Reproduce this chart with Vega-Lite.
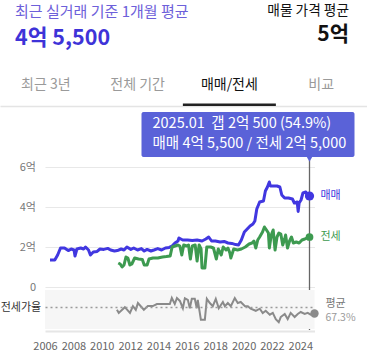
{
  "$schema": "https://vega.github.io/schema/vega-lite/v6.json",
  "width": 367,
  "height": 364,
  "autosize": "none",
  "padding": 0,
  "background": "#ffffff",
  "config": {"view": {"stroke": null}, "font": "Noto Sans CJK KR", "axis": {"title": null}},
  "datasets": {
    "price": [
      {"d": 2006.0, "v": 1.35, "s": "매매"}, {"d": 2006.35, "v": 1.35, "s": "매매"}, {"d": 2006.56, "v": 1.6, "s": "매매"}, {"d": 2006.77, "v": 1.95, "s": "매매"},
      {"d": 2007.06, "v": 1.95, "s": "매매"}, {"d": 2007.34, "v": 1.82, "s": "매매"}, {"d": 2007.55, "v": 1.9, "s": "매매"}, {"d": 2007.76, "v": 1.85, "s": "매매"},
      {"d": 2007.83, "v": 1.55, "s": "매매"}, {"d": 2007.97, "v": 1.9, "s": "매매"}, {"d": 2008.25, "v": 1.95, "s": "매매"}, {"d": 2008.46, "v": 1.9, "s": "매매"},
      {"d": 2008.6, "v": 2.0, "s": "매매"}, {"d": 2008.82, "v": 1.85, "s": "매매"}, {"d": 2008.96, "v": 1.6, "s": "매매"}, {"d": 2009.17, "v": 1.75, "s": "매매"},
      {"d": 2009.45, "v": 1.78, "s": "매매"}, {"d": 2009.66, "v": 1.9, "s": "매매"}, {"d": 2009.94, "v": 1.88, "s": "매매"}, {"d": 2010.23, "v": 1.93, "s": "매매"},
      {"d": 2010.44, "v": 1.85, "s": "매매"}, {"d": 2010.72, "v": 1.8, "s": "매매"}, {"d": 2010.93, "v": 1.82, "s": "매매"}, {"d": 2011.21, "v": 1.9, "s": "매매"},
      {"d": 2011.42, "v": 1.85, "s": "매매"}, {"d": 2011.63, "v": 2.0, "s": "매매"}, {"d": 2011.92, "v": 1.88, "s": "매매"}, {"d": 2012.13, "v": 1.95, "s": "매매"},
      {"d": 2012.41, "v": 1.85, "s": "매매"}, {"d": 2012.69, "v": 1.92, "s": "매매"}, {"d": 2012.9, "v": 1.8, "s": "매매"}, {"d": 2013.11, "v": 1.88, "s": "매매"},
      {"d": 2013.39, "v": 1.8, "s": "매매"}, {"d": 2013.61, "v": 1.85, "s": "매매"}, {"d": 2013.89, "v": 1.92, "s": "매매"}, {"d": 2014.17, "v": 1.85, "s": "매매"},
      {"d": 2014.45, "v": 1.95, "s": "매매"}, {"d": 2014.73, "v": 1.98, "s": "매매"}, {"d": 2014.94, "v": 2.05, "s": "매매"}, {"d": 2015.15, "v": 2.2, "s": "매매"},
      {"d": 2015.37, "v": 2.3, "s": "매매"}, {"d": 2015.44, "v": 2.45, "s": "매매"}, {"d": 2015.72, "v": 2.35, "s": "매매"}, {"d": 2016.07, "v": 2.35, "s": "매매"},
      {"d": 2016.42, "v": 2.32, "s": "매매"}, {"d": 2016.77, "v": 2.35, "s": "매매"}, {"d": 2017.13, "v": 2.3, "s": "매매"}, {"d": 2017.41, "v": 2.4, "s": "매매"},
      {"d": 2017.62, "v": 2.5, "s": "매매"}, {"d": 2017.83, "v": 2.3, "s": "매매"}, {"d": 2018.11, "v": 2.3, "s": "매매"}, {"d": 2018.46, "v": 2.25, "s": "매매"},
      {"d": 2018.75, "v": 2.28, "s": "매매"}, {"d": 2019.03, "v": 2.2, "s": "매매"}, {"d": 2019.31, "v": 2.18, "s": "매매"}, {"d": 2019.59, "v": 2.12, "s": "매매"},
      {"d": 2019.8, "v": 2.1, "s": "매매"}, {"d": 2020.01, "v": 2.35, "s": "매매"}, {"d": 2020.23, "v": 2.75, "s": "매매"}, {"d": 2020.44, "v": 2.9, "s": "매매"},
      {"d": 2020.65, "v": 3.05, "s": "매매"}, {"d": 2020.86, "v": 3.15, "s": "매매"}, {"d": 2021.0, "v": 3.3, "s": "매매"}, {"d": 2021.14, "v": 3.9, "s": "매매"},
      {"d": 2021.35, "v": 4.25, "s": "매매"}, {"d": 2021.63, "v": 4.3, "s": "매매"}, {"d": 2021.77, "v": 4.8, "s": "매매"}, {"d": 2021.92, "v": 5.0, "s": "매매"},
      {"d": 2022.06, "v": 5.25, "s": "매매"}, {"d": 2022.13, "v": 5.05, "s": "매매"}, {"d": 2022.34, "v": 5.05, "s": "매매"}, {"d": 2022.62, "v": 5.05, "s": "매매"},
      {"d": 2022.83, "v": 5.0, "s": "매매"}, {"d": 2022.97, "v": 4.6, "s": "매매"}, {"d": 2023.18, "v": 4.45, "s": "매매"}, {"d": 2023.46, "v": 4.45, "s": "매매"},
      {"d": 2023.75, "v": 4.4, "s": "매매"}, {"d": 2023.89, "v": 4.2, "s": "매매"}, {"d": 2024.1, "v": 4.25, "s": "매매"}, {"d": 2024.17, "v": 3.78, "s": "매매"},
      {"d": 2024.24, "v": 4.2, "s": "매매"}, {"d": 2024.38, "v": 4.35, "s": "매매"}, {"d": 2024.52, "v": 4.7, "s": "매매"}, {"d": 2024.73, "v": 4.75, "s": "매매"},
      {"d": 2024.84, "v": 4.6, "s": "매매"}, {"d": 2025.0, "v": 4.55, "s": "매매"},
      {"d": 2011.0, "v": 1.2, "s": "전세"}, {"d": 2011.14, "v": 1.15, "s": "전세"}, {"d": 2011.28, "v": 1.0, "s": "전세"}, {"d": 2011.42, "v": 1.1, "s": "전세"},
      {"d": 2011.56, "v": 1.5, "s": "전세"}, {"d": 2011.7, "v": 1.45, "s": "전세"}, {"d": 2011.85, "v": 1.1, "s": "전세"}, {"d": 2011.99, "v": 1.15, "s": "전세"},
      {"d": 2012.2, "v": 1.45, "s": "전세"}, {"d": 2012.48, "v": 1.4, "s": "전세"}, {"d": 2012.76, "v": 1.38, "s": "전세"}, {"d": 2012.9, "v": 1.1, "s": "전세"},
      {"d": 2013.11, "v": 1.1, "s": "전세"}, {"d": 2013.25, "v": 1.4, "s": "전세"}, {"d": 2013.54, "v": 1.45, "s": "전세"}, {"d": 2013.89, "v": 1.45, "s": "전세"},
      {"d": 2014.24, "v": 1.5, "s": "전세"}, {"d": 2014.52, "v": 1.52, "s": "전세"}, {"d": 2014.8, "v": 1.55, "s": "전세"}, {"d": 2014.94, "v": 2.0, "s": "전세"},
      {"d": 2015.15, "v": 2.05, "s": "전세"}, {"d": 2015.37, "v": 2.1, "s": "전세"}, {"d": 2015.51, "v": 2.05, "s": "전세"}, {"d": 2015.65, "v": 1.6, "s": "전세"},
      {"d": 2015.79, "v": 2.1, "s": "전세"}, {"d": 2016.0, "v": 2.05, "s": "전세"}, {"d": 2016.14, "v": 2.1, "s": "전세"}, {"d": 2016.28, "v": 1.4, "s": "전세"},
      {"d": 2016.42, "v": 2.05, "s": "전세"}, {"d": 2016.63, "v": 2.1, "s": "전세"}, {"d": 2016.77, "v": 1.3, "s": "전세"}, {"d": 2016.92, "v": 2.1, "s": "전세"},
      {"d": 2017.06, "v": 1.9, "s": "전세"}, {"d": 2017.13, "v": 0.95, "s": "전세"}, {"d": 2017.34, "v": 0.95, "s": "전세"}, {"d": 2017.48, "v": 2.0, "s": "전세"},
      {"d": 2017.76, "v": 2.0, "s": "전세"}, {"d": 2017.97, "v": 1.95, "s": "전세"}, {"d": 2018.18, "v": 1.4, "s": "전세"}, {"d": 2018.32, "v": 1.9, "s": "전세"},
      {"d": 2018.54, "v": 1.6, "s": "전세"}, {"d": 2018.68, "v": 2.0, "s": "전세"}, {"d": 2018.89, "v": 1.85, "s": "전세"}, {"d": 2019.03, "v": 1.95, "s": "전세"},
      {"d": 2019.17, "v": 1.7, "s": "전세"}, {"d": 2019.24, "v": 1.45, "s": "전세"}, {"d": 2019.45, "v": 1.9, "s": "전세"}, {"d": 2019.73, "v": 1.85, "s": "전세"},
      {"d": 2020.01, "v": 1.9, "s": "전세"}, {"d": 2020.3, "v": 2.0, "s": "전세"}, {"d": 2020.58, "v": 2.15, "s": "전세"}, {"d": 2020.79, "v": 2.2, "s": "전세"},
      {"d": 2020.93, "v": 2.3, "s": "전세"}, {"d": 2021.07, "v": 1.95, "s": "전세"}, {"d": 2021.21, "v": 2.35, "s": "전세"}, {"d": 2021.35, "v": 2.5, "s": "전세"},
      {"d": 2021.56, "v": 2.75, "s": "전세"}, {"d": 2021.7, "v": 3.0, "s": "전세"}, {"d": 2021.85, "v": 2.85, "s": "전세"}, {"d": 2021.99, "v": 2.7, "s": "전세"},
      {"d": 2022.06, "v": 1.95, "s": "전세"}, {"d": 2022.2, "v": 2.6, "s": "전세"}, {"d": 2022.34, "v": 2.85, "s": "전세"}, {"d": 2022.48, "v": 1.85, "s": "전세"},
      {"d": 2022.62, "v": 2.5, "s": "전세"}, {"d": 2022.76, "v": 2.7, "s": "전세"}, {"d": 2022.9, "v": 2.65, "s": "전세"}, {"d": 2023.04, "v": 2.1, "s": "전세"},
      {"d": 2023.18, "v": 2.4, "s": "전세"}, {"d": 2023.25, "v": 2.6, "s": "전세"}, {"d": 2023.39, "v": 1.95, "s": "전세"}, {"d": 2023.54, "v": 2.3, "s": "전세"},
      {"d": 2023.68, "v": 2.5, "s": "전세"}, {"d": 2023.82, "v": 2.2, "s": "전세"}, {"d": 2024.03, "v": 2.25, "s": "전세"}, {"d": 2024.24, "v": 2.2, "s": "전세"},
      {"d": 2024.45, "v": 2.35, "s": "전세"}, {"d": 2024.66, "v": 2.4, "s": "전세"}, {"d": 2024.8, "v": 2.45, "s": "전세"}, {"d": 2025.0, "v": 2.5, "s": "전세"}
    ],
    "ratio": [
      {"d": 2011.07, "r": 62}, {"d": 2011.2, "r": 56}, {"d": 2011.63, "r": 67}, {"d": 2011.99, "r": 56}, {"d": 2012.2, "r": 69},
      {"d": 2012.4, "r": 62}, {"d": 2012.55, "r": 75}, {"d": 2012.97, "r": 62}, {"d": 2013.25, "r": 69}, {"d": 2013.6, "r": 69},
      {"d": 2013.89, "r": 73}, {"d": 2014.3, "r": 73}, {"d": 2014.8, "r": 73}, {"d": 2014.94, "r": 84.6}, {"d": 2015.15, "r": 73},
      {"d": 2015.3, "r": 84.6}, {"d": 2015.51, "r": 79}, {"d": 2015.72, "r": 65}, {"d": 2015.86, "r": 84}, {"d": 2016.07, "r": 81},
      {"d": 2016.21, "r": 65}, {"d": 2016.35, "r": 83}, {"d": 2016.56, "r": 83}, {"d": 2016.7, "r": 65}, {"d": 2016.77, "r": 81},
      {"d": 2016.99, "r": 43}, {"d": 2017.27, "r": 43}, {"d": 2017.41, "r": 83}, {"d": 2017.62, "r": 75}, {"d": 2017.83, "r": 69},
      {"d": 2018.04, "r": 83}, {"d": 2018.25, "r": 65}, {"d": 2018.54, "r": 77}, {"d": 2018.68, "r": 68.7}, {"d": 2018.89, "r": 75},
      {"d": 2019.1, "r": 68.7}, {"d": 2019.38, "r": 84.6}, {"d": 2019.59, "r": 75}, {"d": 2019.8, "r": 77}, {"d": 2020.1, "r": 68.7},
      {"d": 2020.3, "r": 68.7}, {"d": 2020.5, "r": 64}, {"d": 2020.86, "r": 60}, {"d": 2021.14, "r": 64}, {"d": 2021.35, "r": 55.8},
      {"d": 2021.56, "r": 60}, {"d": 2021.85, "r": 52.5}, {"d": 2022.06, "r": 56}, {"d": 2022.27, "r": 44}, {"d": 2022.48, "r": 38},
      {"d": 2022.62, "r": 48}, {"d": 2022.9, "r": 54}, {"d": 2023.11, "r": 44}, {"d": 2023.32, "r": 56}, {"d": 2023.6, "r": 48},
      {"d": 2023.82, "r": 54}, {"d": 2024.03, "r": 57.7}, {"d": 2024.31, "r": 54}, {"d": 2024.52, "r": 56}, {"d": 2024.73, "r": 52.5},
      {"d": 2024.9, "r": 54}, {"d": 2025.0, "r": 54.9}
    ],
    "ends": [
      {"d": 2025.0, "v": 4.55, "s": "매매"},
      {"d": 2025.0, "v": 2.5, "s": "전세"}
    ],
    "latest": [
      {"d": 2025.0, "sale": 4.55, "jeonse": 2.5, "ratio": 54.9, "avg": 67.3,
       "l1": "2025.01\u00a0\u00a0갭 2억 500 (54.9%)", "l2": "매매 4억 5,500 / 전세 2억 5,000",
       "a1": "평균", "a2": "67.3%"}
    ],
    "header": [
      {"side": "left", "row": "caption", "t": "최근 실거래 기준 1개월 평균"},
      {"side": "left", "row": "value", "t": "4억 5,500"},
      {"side": "right", "row": "caption", "t": "매물 가격 평균"},
      {"side": "right", "row": "value", "t": "5억"}
    ],
    "tabs": [
      {"tab": "최근 3년", "sel": false},
      {"tab": "전체 기간", "sel": false},
      {"tab": "매매/전세", "sel": true},
      {"tab": "비교", "sel": false}
    ]
  },
  "layer": [
    {
      "layer": [
        {
          "data": {"name": "price"},
          "mark": {"type": "line", "strokeWidth": 3, "strokeJoin": "round"},
          "encoding": {
            "x": {"field": "d", "type": "quantitative", "scale": {"domain": [2006, 2025], "range": [45, 314.5], "nice": false, "zero": false}, "axis": null},
            "y": {"field": "v", "type": "quantitative", "scale": {"domain": [0, 6], "range": [287, 167], "nice": false, "zero": false},
              "axis": {"orient": "left", "offset": -35.5, "values": [0, 2, 4, 6], "labelExpr": "datum.value == 0 ? '0' : datum.value + '억'",
                "domain": false, "ticks": false, "labelPadding": 0, "labelFontSize": 11, "labelColor": "#777777",
                "grid": true, "gridColor": "#e8e8e8", "gridWidth": 1.2}},
            "color": {"field": "s", "type": "nominal", "scale": {"domain": ["매매", "전세"], "range": ["#4137e0", "#3d9a50"]}, "legend": null}
          }
        },
        {
          "data": {"name": "latest"},
          "mark": {"type": "rule", "color": "#666666", "strokeWidth": 1.3},
          "encoding": {
            "x": {"field": "d", "type": "quantitative"},
            "y": {"datum": 6.35},
            "y2": {"datum": -2.15}
          }
        },
        {
          "data": {"name": "ends"},
          "mark": {"type": "point", "filled": true, "opacity": 1},
          "encoding": {
            "x": {"field": "d", "type": "quantitative"},
            "y": {"field": "v", "type": "quantitative"},
            "color": {"field": "s", "type": "nominal"},
            "size": {"field": "s", "type": "nominal", "scale": {"domain": ["매매", "전세"], "range": [85, 60]}, "legend": null}
          }
        },
        {
          "data": {"name": "ends"},
          "mark": {"type": "text", "align": "left", "baseline": "middle", "dx": 11, "fontSize": 11},
          "encoding": {
            "x": {"field": "d", "type": "quantitative"},
            "y": {"field": "v", "type": "quantitative"},
            "color": {"field": "s", "type": "nominal"},
            "text": {"field": "s"}
          }
        },
        {
          "data": {"name": "latest"},
          "mark": {"type": "bar", "orient": "vertical", "width": 213, "xOffset": -61.5, "yOffset": -84, "y2Offset": -39, "color": "#5a62d8", "cornerRadius": 2},
          "encoding": {
            "x": {"field": "d", "type": "quantitative"},
            "y": {"field": "sale", "type": "quantitative"},
            "y2": {"field": "sale"}
          }
        },
        {
          "data": {"name": "latest"},
          "mark": {"type": "point", "shape": "triangle-down", "filled": true, "opacity": 1, "size": 55, "color": "#5a62d8", "yOffset": -37.5},
          "encoding": {
            "x": {"field": "d", "type": "quantitative"},
            "y": {"field": "sale", "type": "quantitative"}
          }
        },
        {
          "data": {"name": "latest"},
          "mark": {"type": "text", "align": "left", "baseline": "middle", "dx": -157, "dy": -72, "fontSize": 14.5, "color": "#ffffff"},
          "encoding": {
            "x": {"field": "d", "type": "quantitative"},
            "y": {"field": "sale", "type": "quantitative"},
            "text": {"field": "l1"}
          }
        },
        {
          "data": {"name": "latest"},
          "mark": {"type": "text", "align": "left", "baseline": "middle", "dx": -157, "dy": -52, "fontSize": 14.5, "color": "#ffffff"},
          "encoding": {
            "x": {"field": "d", "type": "quantitative"},
            "y": {"field": "sale", "type": "quantitative"},
            "text": {"field": "l2"}
          }
        }
      ]
    },
    {
      "layer": [
        {
          "data": {"name": "latest"},
          "mark": {"type": "rect", "color": "#f6f6f6"},
          "encoding": {
            "x": {"datum": 2006, "type": "quantitative", "scale": {"domain": [2006, 2025], "range": [45, 314.5], "nice": false, "zero": false},
              "axis": {"orient": "bottom", "offset": -33, "values": [2006, 2008, 2010, 2012, 2014, 2016, 2018, 2020, 2022, 2024], "format": "d",
                "labelFlush": false, "labelPadding": 9, "ticks": false, "domain": true, "domainColor": "#e6e6e6", "domainWidth": 2,
                "labelFontSize": 11, "labelColor": "#666666", "grid": false}},
            "x2": {"datum": 2025},
            "y": {"datum": 25, "type": "quantitative", "scale": {"domain": [25, 100], "range": [329, 290], "nice": false, "zero": false},
              "axis": {"orient": "left", "offset": -40.7, "values": [67.3], "labelExpr": "'전세가율'", "domain": false, "ticks": false,
                "labelPadding": 0, "labelFontSize": 11, "labelColor": "#333333", "grid": true, "gridDash": [2, 3],
                "gridColor": "#9a9a9a", "gridWidth": 1.5, "zindex": 1}},
            "y2": {"datum": 100}
          }
        },
        {
          "data": {"name": "ratio"},
          "mark": {"type": "line", "color": "#8a8a8a", "strokeWidth": 2},
          "encoding": {
            "x": {"field": "d", "type": "quantitative"},
            "y": {"field": "r", "type": "quantitative"}
          }
        },
        {
          "data": {"name": "latest"},
          "mark": {"type": "point", "filled": true, "opacity": 1, "size": 70, "color": "#8a8a8a"},
          "encoding": {
            "x": {"field": "d", "type": "quantitative"},
            "y": {"field": "ratio", "type": "quantitative"}
          }
        },
        {
          "data": {"name": "latest"},
          "mark": {"type": "text", "align": "left", "baseline": "middle", "dx": 11, "dy": -3, "fontSize": 11, "color": "#777777"},
          "encoding": {
            "x": {"field": "d", "type": "quantitative"},
            "y": {"field": "avg", "type": "quantitative"},
            "text": {"field": "a1"}
          }
        },
        {
          "data": {"name": "latest"},
          "mark": {"type": "text", "align": "left", "baseline": "middle", "dx": 11, "dy": 10.5, "fontSize": 10.5, "color": "#9a9a9a"},
          "encoding": {
            "x": {"field": "d", "type": "quantitative"},
            "y": {"field": "avg", "type": "quantitative"},
            "text": {"field": "a2"}
          }
        }
      ]
    },
    {
      "data": {"name": "header"},
      "encoding": {
        "x": {"field": "side", "type": "nominal", "scale": {"type": "point", "domain": ["left", "right"], "range": [15, 349], "padding": 0}, "axis": null},
        "y": {"field": "row", "type": "nominal", "scale": {"type": "point", "domain": ["caption", "value"], "range": [11.5, 38.5], "padding": 0}, "axis": null},
        "text": {"field": "t"}
      },
      "layer": [
        {"transform": [{"filter": "datum.side == 'left' && datum.row == 'caption'"}],
         "mark": {"type": "text", "align": "left", "baseline": "middle", "fontSize": 15, "color": "#6d60da"}},
        {"transform": [{"filter": "datum.side == 'left' && datum.row == 'value'"}],
         "mark": {"type": "text", "align": "left", "baseline": "middle", "fontSize": 21.5, "fontWeight": "bold", "color": "#3e33d8"}},
        {"transform": [{"filter": "datum.side == 'right' && datum.row == 'caption'"}],
         "mark": {"type": "text", "align": "right", "baseline": "middle", "dy": -1, "fontSize": 13.7, "color": "#111111"}},
        {"transform": [{"filter": "datum.side == 'right' && datum.row == 'value'"}],
         "mark": {"type": "text", "align": "right", "baseline": "middle", "dy": -4, "fontSize": 21, "fontWeight": "bold", "color": "#111111"}}
      ]
    },
    {
      "data": {"name": "tabs"},
      "transform": [{"filter": "datum.sel"}],
      "mark": {"type": "tick", "orient": "horizontal", "size": 93, "thickness": 2.5, "color": "#222222", "opacity": 1},
      "encoding": {
        "x": {"field": "tab", "type": "nominal",
          "scale": {"type": "band", "domain": ["최근 3년", "전체 기간", "매매/전세", "비교"], "range": [0, 367], "paddingInner": 0, "paddingOuter": 0},
          "axis": {"orient": "top", "offset": -106, "ticks": false, "domain": true, "domainColor": "#e4e4e4", "domainWidth": 1.5,
            "labelPadding": 15, "labelFontSize": 14, "labelAngle": 0, "grid": false,
            "labelColor": {"condition": {"test": "datum.value === '매매/전세'", "value": "#111111"}, "value": "#9a9a9a"}}},
        "y": {"datum": "u", "type": "nominal", "scale": {"type": "point", "domain": ["u"], "range": [104.8, 104.8], "padding": 0}, "axis": null}
      }
    }
  ],
  "resolve": {"scale": {"x": "independent", "y": "independent", "color": "independent", "size": "independent"}}
}
